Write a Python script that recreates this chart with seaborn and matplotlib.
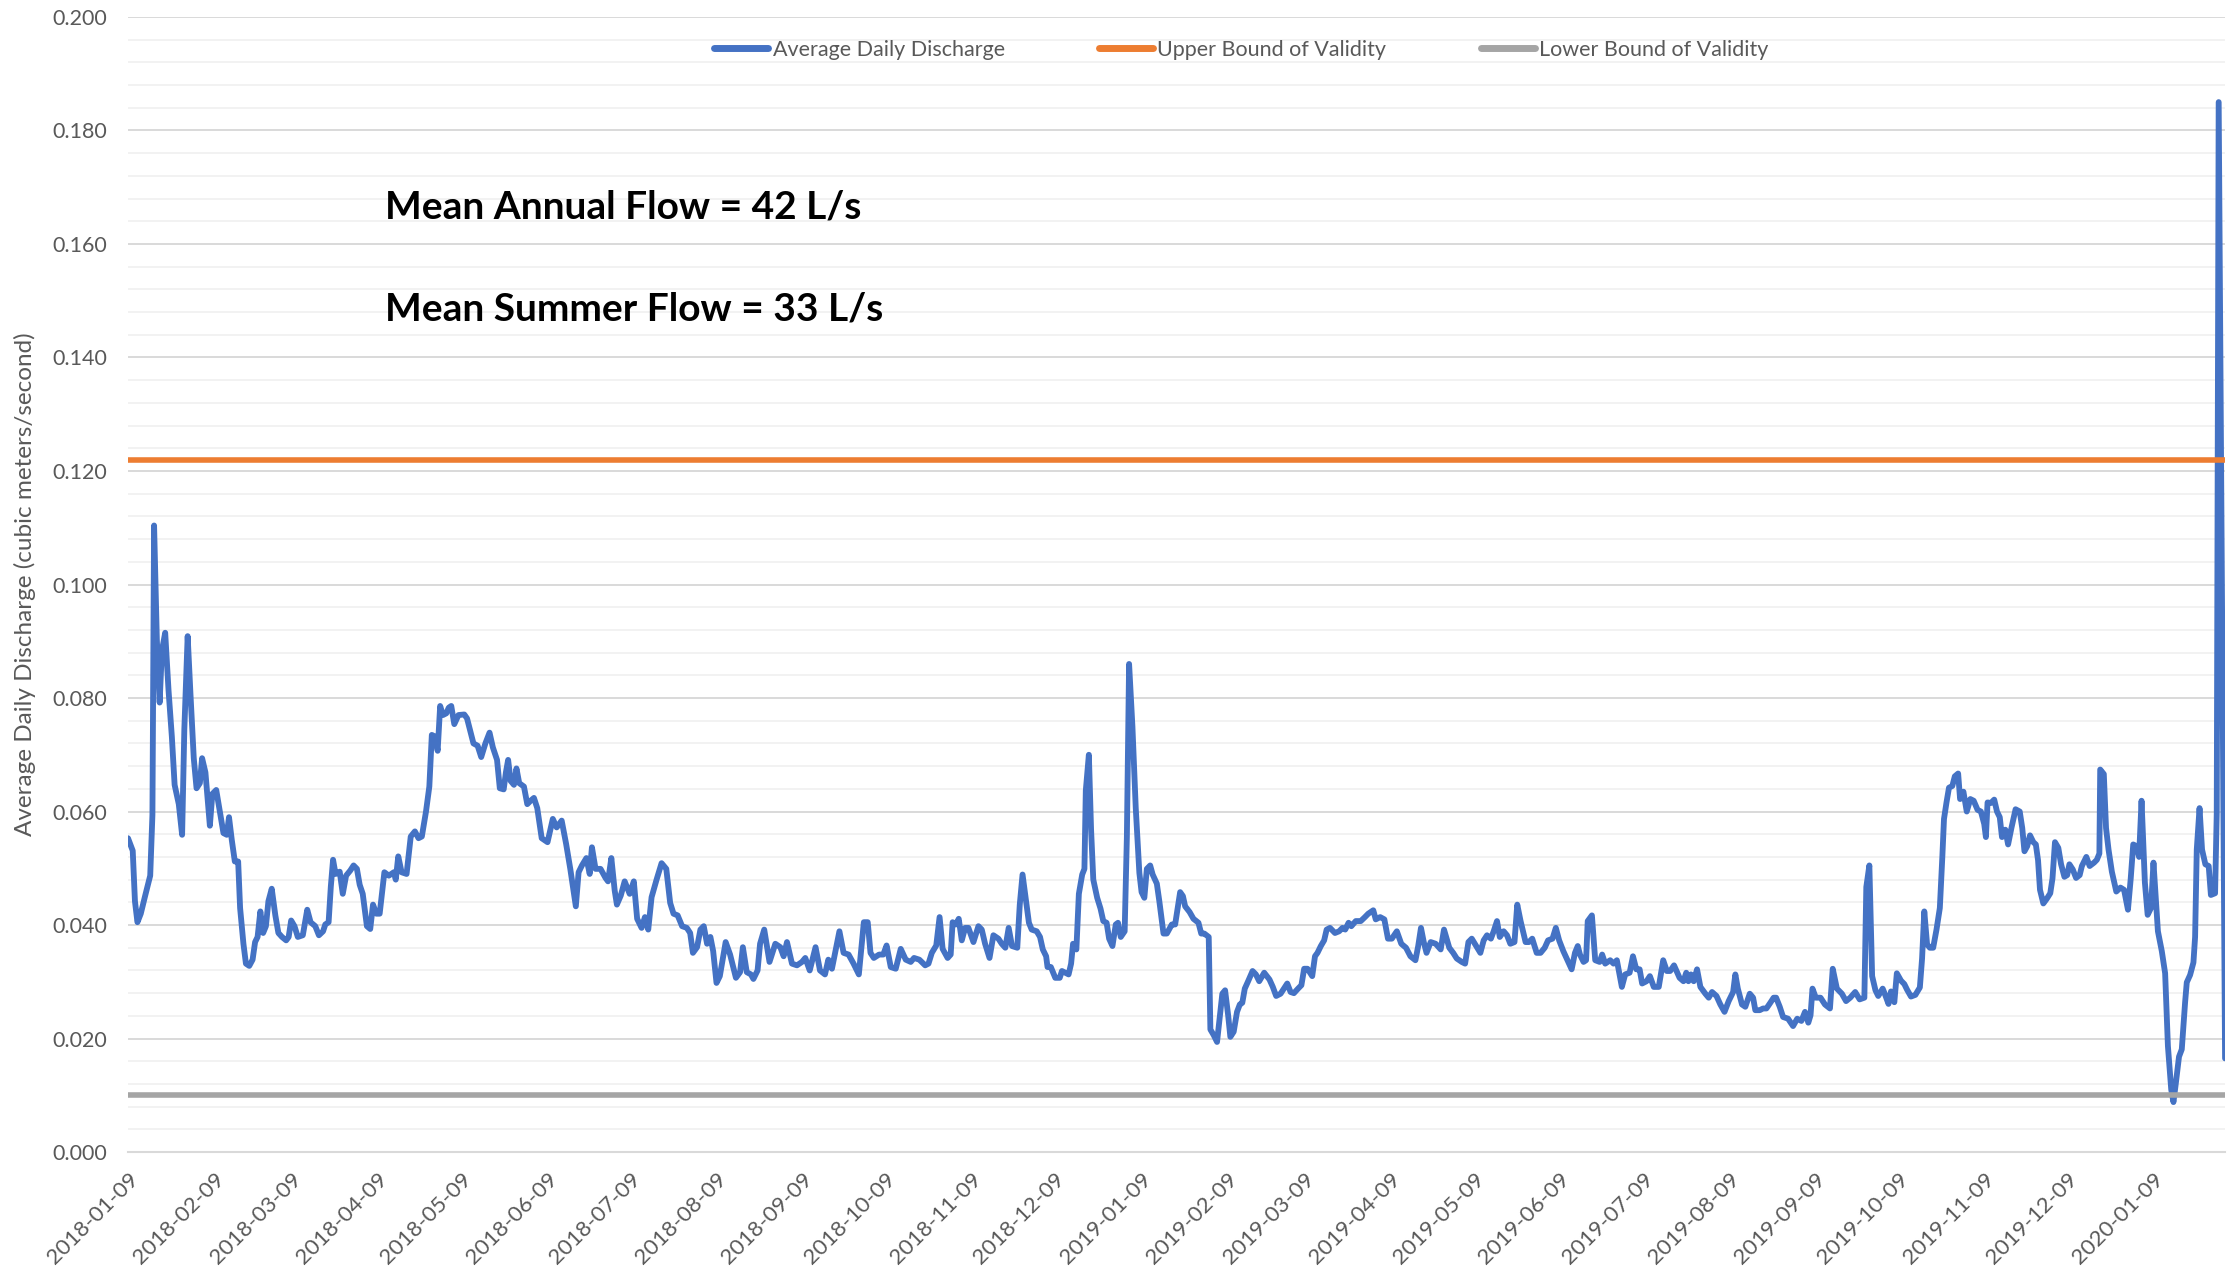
import matplotlib
matplotlib.use("Agg")
import matplotlib.pyplot as plt
import matplotlib.dates as mdates
from matplotlib.ticker import MultipleLocator, FormatStrFormatter
import seaborn as sns
import pandas as pd

# Datos (días desde 2018-01-09, caudal en m3/s)
START_DATE = "2018-01-09"

DAYS = [
    0.0, 1.7, 2.5, 3.4, 4.6, 6.2, 8.0, 8.8, 9.4, 10.4, 11.4, 12.2, 13.4, 14.6, 15.8, 16.8,
    18.3, 19.5, 20.3, 21.5, 22.5, 23.7, 24.7, 25.9, 26.7, 27.9, 29.5, 30.4, 31.8, 33.1, 34.4,
    35.6, 36.4, 37.4, 38.5, 39.7, 40.4, 41.6, 42.5, 43.7, 44.9, 45.8, 46.7, 47.7, 48.7, 49.7,
    50.6, 51.8, 53.1, 54.2, 55.5, 57.0, 57.9, 58.8, 60.0, 61.2, 63.0, 64.6, 65.8, 67.5, 68.8,
    70.3, 71.1, 72.3, 73.1, 73.9, 74.8, 76.3, 77.4, 78.6, 80.1, 81.3, 82.5, 83.5, 84.6, 86.1,
    87.3, 88.3, 89.5, 90.7, 92.4, 94.0, 95.8, 96.5, 97.4, 98.6, 100.4, 101.9, 103.4, 104.7,
    105.9, 107.4, 108.6, 109.5, 110.7, 111.6, 112.5, 113.5, 114.7, 115.6, 116.5, 117.6, 119.1,
    121.2, 122.2, 124.5, 126.0, 127.3, 128.8, 130.3, 131.5, 133.0, 134.0, 135.4, 136.2, 137.0,
    137.9, 139.1, 140.0, 141.0, 142.7, 143.9, 145.1, 146.3, 147.5, 149.1, 151.2, 153.1, 154.5,
    156.3, 157.9, 159.4, 161.4, 162.4, 163.6, 165.2, 166.4, 167.2, 168.5, 170.3, 172.1, 173.0,
    174.2, 175.4, 176.2, 177.6, 179.0, 180.8, 182.3, 183.5, 185.1, 186.3, 187.5, 188.7, 190.5,
    192.3, 194.0, 195.4, 196.6, 198.1, 199.7, 201.4, 202.6, 203.6, 205.1, 206.3, 207.5, 208.7,
    209.9, 210.9, 212.1, 213.3, 215.4, 217.0, 219.1, 220.6, 221.6, 223.0, 224.5, 225.4, 226.9,
    227.8, 229.3, 231.2, 233.3, 235.1, 236.3, 237.5, 239.3, 241.1, 242.9, 244.1, 245.7, 247.8,
    249.4, 251.2, 252.4, 253.7, 256.4, 257.9, 259.7, 261.5, 263.4, 265.2, 266.6, 267.6, 268.8,
    270.7, 272.2, 273.4, 274.9, 276.7, 278.5, 280.3, 282.1, 283.3, 285.2, 287.3, 288.5, 289.7,
    291.3, 292.5, 293.6, 295.4, 296.5, 297.2, 298.4, 299.4, 300.5, 301.7, 302.9, 304.7, 306.5,
    307.7, 308.9, 310.5, 311.9, 313.7, 314.9, 316.2, 317.4, 318.6, 320.5, 321.4, 322.4, 323.5,
    324.7, 325.7, 327.5, 328.7, 329.7, 330.9, 331.4, 332.6, 334.2, 335.8, 336.6, 337.8, 339.0,
    339.9, 340.6, 341.8, 342.7, 343.9, 344.7, 345.2, 346.3, 347.1, 347.9, 349.3, 350.5, 351.5,
    352.7, 353.6, 354.8, 356.0, 356.8, 357.8, 359.2, 360.0, 360.8, 362.0, 363.2, 364.5, 365.3,
    366.3, 367.2, 368.4, 369.3, 370.8, 371.7, 373.2, 374.4, 376.2, 377.4, 379.2, 380.2, 381.0,
    382.6, 384.0, 385.8, 386.8, 387.9, 389.5, 390.1, 391.3, 392.5, 393.7, 394.4, 395.4, 396.5,
    397.3, 398.5, 399.7, 400.7, 401.6, 402.5, 403.7, 405.3, 406.5, 407.7, 409.5, 411.4, 412.6,
    413.8, 415.4, 416.6, 417.8, 419.0, 420.2, 421.7, 422.9, 423.9, 425.1, 426.8, 427.8, 428.7,
    429.9, 431.1, 432.0, 433.2, 435.0, 436.5, 437.7, 438.7, 439.9, 440.9, 442.5, 444.3, 445.8,
    447.0, 448.8, 449.7, 451.3, 452.8, 454.1, 455.5, 457.3, 458.9, 460.6, 462.2, 464.0, 465.0,
    466.0, 467.0, 468.0, 469.5, 471.3, 473.1, 474.3, 476.2, 477.6, 478.9, 480.7, 481.9, 483.1,
    484.3, 485.9, 487.4, 488.6, 489.8, 491.2, 492.2, 493.4, 494.4, 495.8, 497.0, 498.2, 499.7,
    500.7, 501.9, 503.7, 504.9, 506.1, 507.7, 509.1, 510.6, 511.8, 513.4, 514.6, 515.8, 517.3,
    519.1, 520.3, 521.5, 522.5, 523.3, 524.6, 525.5, 526.1, 527.6, 528.8, 530.4, 531.3, 532.4,
    534.2, 535.4, 536.6, 538.4, 539.6, 541.2, 542.4, 543.6, 544.8, 545.7, 547.3, 548.5, 549.9,
    551.7, 553.3, 554.6, 555.8, 557.2, 559.2, 560.6, 561.6, 562.4, 563.3, 564.3, 565.5, 566.7,
    568.5, 569.7, 570.9, 572.5, 573.9, 575.4, 576.9, 578.5, 579.3, 580.2, 581.7, 582.9, 584.5,
    585.7, 586.5, 588.1, 589.3, 590.5, 591.9, 593.1, 594.0, 595.3, 596.5, 598.3, 600.1, 601.6,
    603.1, 604.4, 605.6, 606.4, 607.1, 608.3, 610.0, 611.6, 613.4, 614.4, 615.9, 617.7, 619.2,
    620.7, 622.5, 624.1, 625.8, 626.5, 627.6, 628.6, 629.8, 630.8, 632.4, 633.3, 634.5, 635.4,
    636.6, 637.5, 639.0, 640.2, 641.2, 642.6, 644.2, 645.8, 646.6, 647.4, 648.4, 649.4, 650.6,
    651.8, 653.0, 653.9, 654.5, 655.4, 656.3, 657.5, 658.4, 659.6, 660.3, 661.5, 662.7, 664.0,
    665.2, 666.6, 667.8, 669.0, 669.6, 670.2, 671.4, 672.6, 673.6, 674.6, 675.4, 676.6, 677.6,
    678.8, 680.3, 681.8, 682.7, 683.5, 684.5, 685.5, 686.7, 687.6, 688.4, 689.1, 690.3, 691.5,
    692.8, 693.6, 694.5, 695.7, 696.7, 697.9, 698.9, 699.7, 700.9, 702.1, 703.4, 704.2, 705.8,
    707.0, 708.6, 709.6, 710.5, 710.8, 712.1, 712.9, 713.8, 715.0, 716.6, 718.1, 719.4, 720.8,
    721.8, 722.7, 723.9, 724.8, 725.7, 726.9, 727.9, 729.1, 730.0, 731.6, 733.0, 734.2, 735.2,
    736.4, 737.2, 738.1, 739.2, 740.2, 741.4, 742.0, 743.2, 744.4, 745.0, 745.6, 746.6, 747.5,
    748.7, 749.9, 750.7, 752.2, 752.8, 753.5, 755.8,
]

FLOW = [
    0.0553, 0.0531, 0.0442, 0.0405, 0.0420, 0.0452, 0.0487, 0.0594, 0.1104, 0.0902, 0.0792,
    0.0883, 0.0915, 0.0814, 0.0732, 0.0647, 0.0613, 0.0559, 0.0745, 0.0909, 0.0808, 0.0694,
    0.0641, 0.0650, 0.0694, 0.0669, 0.0575, 0.0631, 0.0638, 0.0600, 0.0562, 0.0559, 0.0590,
    0.0550, 0.0512, 0.0512, 0.0430, 0.0367, 0.0332, 0.0328, 0.0339, 0.0370, 0.0379, 0.0424,
    0.0386, 0.0398, 0.0442, 0.0464, 0.0417, 0.0386, 0.0379, 0.0373, 0.0379, 0.0408, 0.0398,
    0.0379, 0.0382, 0.0427, 0.0405, 0.0398, 0.0382, 0.0389, 0.0401, 0.0405, 0.0468, 0.0515,
    0.0490, 0.0494, 0.0455, 0.0487, 0.0496, 0.0505, 0.0499, 0.0471, 0.0455, 0.0398, 0.0393,
    0.0436, 0.0420, 0.0420, 0.0493, 0.0487, 0.0493, 0.0480, 0.0521, 0.0493, 0.0490, 0.0556,
    0.0565, 0.0553, 0.0556, 0.0600, 0.0644, 0.0735, 0.0732, 0.0707, 0.0786, 0.0770, 0.0773,
    0.0783, 0.0786, 0.0754, 0.0770, 0.0771, 0.0764, 0.0720, 0.0716, 0.0696, 0.0720, 0.0739,
    0.0713, 0.0691, 0.0641, 0.0639, 0.0669, 0.0691, 0.0654, 0.0647, 0.0676, 0.0650, 0.0644,
    0.0613, 0.0619, 0.0624, 0.0606, 0.0553, 0.0546, 0.0587, 0.0572, 0.0584, 0.0543, 0.0499,
    0.0433, 0.0493, 0.0505, 0.0518, 0.0490, 0.0537, 0.0499, 0.0499, 0.0483, 0.0477, 0.0518,
    0.0461, 0.0436, 0.0452, 0.0477, 0.0455, 0.0477, 0.0411, 0.0395, 0.0414, 0.0392, 0.0449,
    0.0480, 0.0509, 0.0499, 0.0439, 0.0420, 0.0417, 0.0398, 0.0395, 0.0386, 0.0351, 0.0361,
    0.0392, 0.0398, 0.0367, 0.0379, 0.0354, 0.0298, 0.0310, 0.0370, 0.0348, 0.0307, 0.0317,
    0.0361, 0.0317, 0.0313, 0.0305, 0.0320, 0.0367, 0.0392, 0.0335, 0.0367, 0.0361, 0.0345,
    0.0370, 0.0332, 0.0329, 0.0335, 0.0342, 0.0320, 0.0361, 0.0320, 0.0313, 0.0339, 0.0323,
    0.0389, 0.0351, 0.0348, 0.0332, 0.0313, 0.0405, 0.0405, 0.0351, 0.0342, 0.0348, 0.0348,
    0.0364, 0.0326, 0.0323, 0.0358, 0.0339, 0.0335, 0.0342, 0.0339, 0.0329, 0.0332, 0.0351,
    0.0364, 0.0414, 0.0358, 0.0342, 0.0348, 0.0405, 0.0401, 0.0411, 0.0373, 0.0395, 0.0395,
    0.0370, 0.0398, 0.0392, 0.0367, 0.0342, 0.0382, 0.0376, 0.0367, 0.0360, 0.0395, 0.0363,
    0.0360, 0.0436, 0.0489, 0.0448, 0.0404, 0.0392, 0.0389, 0.0379, 0.0357, 0.0345, 0.0326,
    0.0326, 0.0307, 0.0307, 0.0319, 0.0316, 0.0313, 0.0332, 0.0367, 0.0357, 0.0455, 0.0489,
    0.0499, 0.0637, 0.0700, 0.0568, 0.0480, 0.0448, 0.0429, 0.0407, 0.0404, 0.0376, 0.0363,
    0.0401, 0.0404, 0.0379, 0.0389, 0.0555, 0.0860, 0.0750, 0.0606, 0.0492, 0.0458, 0.0448,
    0.0499, 0.0505, 0.0489, 0.0473, 0.0442, 0.0385, 0.0385, 0.0401, 0.0401, 0.0458, 0.0451,
    0.0433, 0.0423, 0.0411, 0.0404, 0.0385, 0.0385, 0.0379, 0.0216, 0.0206, 0.0194, 0.0247,
    0.0279, 0.0285, 0.0241, 0.0203, 0.0212, 0.0247, 0.0260, 0.0263, 0.0288, 0.0301, 0.0319,
    0.0313, 0.0301, 0.0316, 0.0304, 0.0291, 0.0275, 0.0279, 0.0288, 0.0297, 0.0282, 0.0280,
    0.0288, 0.0294, 0.0323, 0.0323, 0.0310, 0.0345, 0.0351, 0.0363, 0.0373, 0.0392, 0.0395,
    0.0386, 0.0389, 0.0395, 0.0392, 0.0404, 0.0398, 0.0407, 0.0407, 0.0414, 0.0420, 0.0426,
    0.0410, 0.0414, 0.0410, 0.0376, 0.0376, 0.0389, 0.0367, 0.0360, 0.0345, 0.0338, 0.0363,
    0.0395, 0.0370, 0.0351, 0.0370, 0.0367, 0.0357, 0.0392, 0.0360, 0.0351, 0.0341, 0.0335,
    0.0332, 0.0370, 0.0376, 0.0363, 0.0351, 0.0373, 0.0382, 0.0376, 0.0389, 0.0407, 0.0379,
    0.0389, 0.0382, 0.0367, 0.0370, 0.0436, 0.0407, 0.0370, 0.0370, 0.0376, 0.0351, 0.0351,
    0.0360, 0.0373, 0.0376, 0.0395, 0.0373, 0.0354, 0.0335, 0.0322, 0.0351, 0.0363, 0.0348,
    0.0335, 0.0338, 0.0407, 0.0417, 0.0338, 0.0335, 0.0348, 0.0332, 0.0338, 0.0332, 0.0338,
    0.0291, 0.0313, 0.0316, 0.0345, 0.0322, 0.0322, 0.0297, 0.0301, 0.0310, 0.0291, 0.0291,
    0.0338, 0.0319, 0.0319, 0.0329, 0.0307, 0.0301, 0.0316, 0.0301, 0.0313, 0.0301, 0.0322,
    0.0291, 0.0279, 0.0272, 0.0282, 0.0275, 0.0260, 0.0247, 0.0266, 0.0282, 0.0313, 0.0288,
    0.0260, 0.0256, 0.0279, 0.0272, 0.0250, 0.0250, 0.0253, 0.0253, 0.0263, 0.0272, 0.0272,
    0.0256, 0.0238, 0.0235, 0.0222, 0.0235, 0.0231, 0.0247, 0.0228, 0.0241, 0.0288, 0.0272,
    0.0272, 0.0260, 0.0253, 0.0323, 0.0288, 0.0279, 0.0266, 0.0272, 0.0282, 0.0269, 0.0272,
    0.0467, 0.0505, 0.0310, 0.0285, 0.0275, 0.0288, 0.0277, 0.0261, 0.0283, 0.0264, 0.0315,
    0.0302, 0.0296, 0.0286, 0.0274, 0.0277, 0.0290, 0.0341, 0.0424, 0.0366, 0.0360, 0.0360,
    0.0392, 0.0430, 0.0520, 0.0587, 0.0616, 0.0642, 0.0645, 0.0662, 0.0667, 0.0622, 0.0635,
    0.0600, 0.0622, 0.0619, 0.0603, 0.0600, 0.0578, 0.0555, 0.0616, 0.0615, 0.0621, 0.0600,
    0.0590, 0.0555, 0.0568, 0.0542, 0.0571, 0.0604, 0.0600, 0.0571, 0.0530, 0.0539, 0.0558,
    0.0546, 0.0542, 0.0514, 0.0462, 0.0438, 0.0446, 0.0456, 0.0482, 0.0546, 0.0536, 0.0507,
    0.0485, 0.0488, 0.0507, 0.0498, 0.0483, 0.0488, 0.0504, 0.0520, 0.0504, 0.0510, 0.0515,
    0.0526, 0.0674, 0.0666, 0.0571, 0.0533, 0.0494, 0.0459, 0.0466, 0.0462, 0.0427, 0.0482,
    0.0542, 0.0539, 0.0520, 0.0619, 0.0475, 0.0418, 0.0430, 0.0510, 0.0389, 0.0354, 0.0315,
    0.0187, 0.0110, 0.0088, 0.0123, 0.0168, 0.0181, 0.0264, 0.0299, 0.0312, 0.0334, 0.0379,
    0.0533, 0.0606, 0.0533, 0.0507, 0.0504, 0.0453, 0.0456, 0.0597, 0.1850, 0.0165,
]

UPPER_BOUND = 0.122
LOWER_BOUND = 0.010
MEAN_ANNUAL_LS = 42
MEAN_SUMMER_LS = 33

BLUE = "#4472C4"
ORANGE = "#ED7D31"
GREY = "#A5A5A5"
TEXT_GREY = "#595959"

sns.set_style("white")
plt.rcParams["font.family"] = ["Lato", "DejaVu Sans"]

dates = pd.Timestamp(START_DATE) + pd.to_timedelta(DAYS, unit="D")
df = pd.DataFrame({"date": dates, "flow": FLOW})
span = [dates[0], dates[-1]]
bounds = pd.DataFrame({
    "date": span * 2,
    "value": [UPPER_BOUND] * 2 + [LOWER_BOUND] * 2,
    "series": ["Upper Bound of Validity"] * 2 + ["Lower Bound of Validity"] * 2,
})

fig = plt.figure(figsize=(22.34, 12.66), dpi=100)
ax = fig.add_axes([0.0573, 0.090, 0.9387, 0.8966])

sns.lineplot(data=df, x="date", y="flow", ax=ax, color=BLUE, lw=4.2,
             estimator=None, label="Average Daily Discharge")
sns.lineplot(data=bounds[bounds.series == "Upper Bound of Validity"], x="date", y="value",
             ax=ax, color=ORANGE, lw=4.0, estimator=None, label="Upper Bound of Validity")
sns.lineplot(data=bounds[bounds.series == "Lower Bound of Validity"], x="date", y="value",
             ax=ax, color=GREY, lw=4.0, estimator=None, label="Lower Bound of Validity")

# ejes
ax.set_xlim(span[0], span[1])
ax.set_ylim(0, 0.2)
ax.yaxis.set_major_locator(MultipleLocator(0.02))
ax.yaxis.set_minor_locator(MultipleLocator(0.004))
ax.yaxis.set_major_formatter(FormatStrFormatter("%.3f"))
ax.grid(which="major", axis="y", color="#D9D9D9", lw=1.4)
ax.grid(which="minor", axis="y", color="#F2F2F2", lw=1.4)
ax.grid(False, axis="x")
ax.set_axisbelow(True)

ax.xaxis.set_major_locator(mdates.MonthLocator(bymonthday=9))
ax.xaxis.set_major_formatter(mdates.DateFormatter("%Y-%m-%d"))

for side in ["top", "right", "left"]:
    ax.spines[side].set_visible(False)
ax.spines["bottom"].set_color("#D9D9D9")
ax.spines["bottom"].set_linewidth(1.5)

ax.tick_params(axis="y", which="both", length=0, pad=15, labelsize=15.5, labelcolor=TEXT_GREY)
ax.tick_params(axis="x", which="major", length=6, width=1.5, color="#D9D9D9",
               pad=6, labelsize=16, labelcolor=TEXT_GREY)
plt.setp(ax.get_xticklabels(), rotation=45, ha="right", rotation_mode="anchor")

ax.set_xlabel("")
ax.set_ylabel("Average Daily Discharge (cubic meters/second)", fontsize=17.5,
              color=TEXT_GREY, labelpad=12)

# anotaciones
ax.text(0.1226, 0.8326, f"Mean Annual Flow = {MEAN_ANNUAL_LS} L/s", transform=ax.transAxes,
        fontsize=28, fontweight="bold", color="black", va="center", ha="left")
ax.text(0.1226, 0.7427, f"Mean Summer Flow = {MEAN_SUMMER_LS} L/s", transform=ax.transAxes,
        fontsize=28, fontweight="bold", color="black", va="center", ha="left")

leg = ax.legend(loc="center", bbox_to_anchor=(0.531, 0.971), ncol=3, frameon=False,
                fontsize=15.5, handlelength=2.5, handletextpad=0.2, columnspacing=4.4,
                labelcolor=TEXT_GREY)
for line in leg.get_lines():
    line.set_linewidth(5)

fig.savefig("out.png", dpi=100)
